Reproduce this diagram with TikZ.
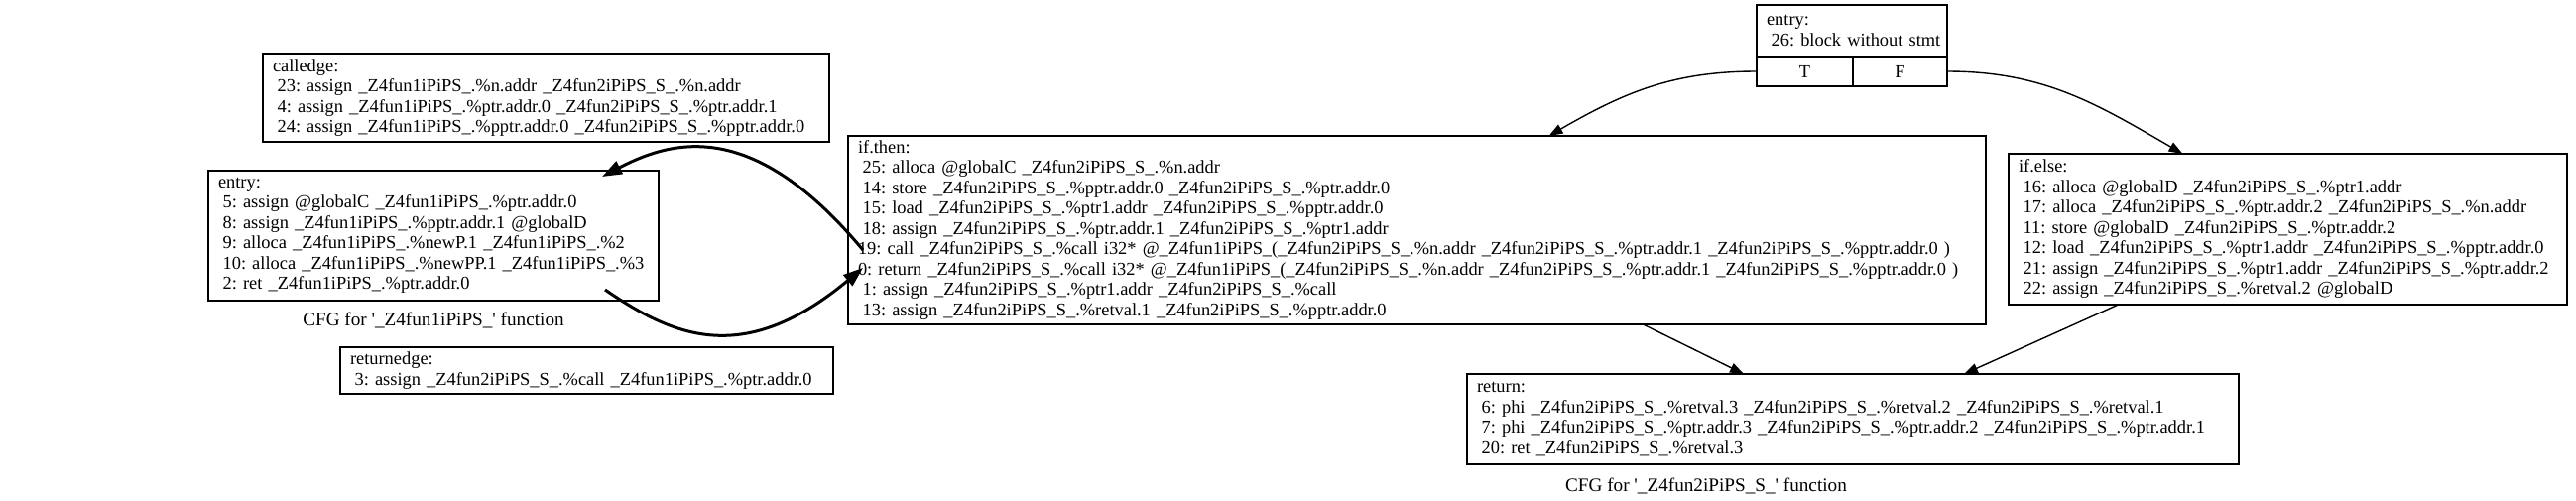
\documentclass[tikz,border=0pt]{standalone}
\usepackage{fontspec}
\setmainfont{Liberation Serif}
\usetikzlibrary{arrows.meta,calc}
\newcommand{\lead}{\hspace*{2.3pt}}

\begin{document}
\begin{tikzpicture}[x=0.5pt,y=-0.5pt,font=\fontsize{9.2}{10.25}\selectfont\frenchspacing,
  block/.style={draw,line width=0.8pt,anchor=north west,align=left,inner xsep=5pt,inner ysep=0pt,outer sep=0pt},
  portcell/.style={draw,line width=0.8pt,anchor=north west,inner sep=0pt,outer sep=0pt,minimum height=15pt},
  cfglabel/.style={font=\fontsize{9.6}{11}\selectfont},
  flow/.style={line width=0.7pt,-{Triangle[length=7pt,width=5pt]}},
  callflow/.style={line width=1.5pt,-{Triangle[length=10pt,width=7pt]}}]
\useasboundingbox (0,0) rectangle (2597,504);
% function 1
\node [block,text width=275.5pt,minimum height=44.5pt] (calledge) at (265,54) {calledge:\\
\lead 23: assign \_Z4fun1iPiPS\_.\%n.addr \_Z4fun2iPiPS\_S\_.\%n.addr\\
\lead 4: assign \_Z4fun1iPiPS\_.\%ptr.addr.0 \_Z4fun2iPiPS\_S\_.\%ptr.addr.1\\
\lead 24: assign \_Z4fun1iPiPS\_.\%pptr.addr.0 \_Z4fun2iPiPS\_S\_.\%pptr.addr.0};
\node [block,text width=217pt,minimum height=65.5pt] (entryone) at (210,172) {entry:\\
\lead 5: assign @globalC \_Z4fun1iPiPS\_.\%ptr.addr.0\\
\lead 8: assign \_Z4fun1iPiPS\_.\%pptr.addr.1 @globalD\\
\lead 9: alloca \_Z4fun1iPiPS\_.\%newP.1 \_Z4fun1iPiPS\_.\%2\\
\lead 10: alloca \_Z4fun1iPiPS\_.\%newPP.1 \_Z4fun1iPiPS\_.\%3\\
\lead 2: ret \_Z4fun1iPiPS\_.\%ptr.addr.0};
\node [cfglabel] (cfgone) at (437,323) {CFG for \textquotesingle\_Z4fun1iPiPS\_\textquotesingle{} function};
\node [block,text width=238.5pt,minimum height=23.5pt] (retedge) at (343,350) {returnedge:\\
\lead 3: assign \_Z4fun2iPiPS\_S\_.\%call \_Z4fun1iPiPS\_.\%ptr.addr.0};
% function 2
\node [block,inner xsep=3pt,text width=90pt,minimum height=26pt] (entrytwo) at (1771,5) {\hspace*{2pt}entry:\\
\lead\hspace*{2pt}26: block without stmt};
\node [portcell,minimum width=48.5pt] (porttrue) at (1771,57) {T};
\node [portcell,minimum width=47.5pt] (portfalse) at (1868,57) {F};
\node [block,text width=563.5pt,minimum height=95pt] (ifthen) at (855,137) {if.then:\\
\lead 25: alloca @globalC \_Z4fun2iPiPS\_S\_.\%n.addr\\
\lead 14: store \_Z4fun2iPiPS\_S\_.\%pptr.addr.0 \_Z4fun2iPiPS\_S\_.\%ptr.addr.0\\
\lead 15: load \_Z4fun2iPiPS\_S\_.\%ptr1.addr \_Z4fun2iPiPS\_S\_.\%pptr.addr.0\\
\lead 18: assign \_Z4fun2iPiPS\_S\_.\%ptr.addr.1 \_Z4fun2iPiPS\_S\_.\%ptr1.addr\\
19: call \_Z4fun2iPiPS\_S\_.\%call i32* @\_Z4fun1iPiPS\_(\_Z4fun2iPiPS\_S\_.\%n.addr \_Z4fun2iPiPS\_S\_.\%ptr.addr.1 \_Z4fun2iPiPS\_S\_.\%pptr.addr.0 )\\
0: return \_Z4fun2iPiPS\_S\_.\%call i32* @\_Z4fun1iPiPS\_(\_Z4fun2iPiPS\_S\_.\%n.addr \_Z4fun2iPiPS\_S\_.\%ptr.addr.1 \_Z4fun2iPiPS\_S\_.\%pptr.addr.0 )\\
\lead 1: assign \_Z4fun2iPiPS\_S\_.\%ptr1.addr \_Z4fun2iPiPS\_S\_.\%call\\
\lead 13: assign \_Z4fun2iPiPS\_S\_.\%retval.1 \_Z4fun2iPiPS\_S\_.\%pptr.addr.0};
\node [block,text width=271.5pt,minimum height=76pt] (ifelse) at (2025,155) {if.else:\\
\lead 16: alloca @globalD \_Z4fun2iPiPS\_S\_.\%ptr1.addr\\
\lead 17: alloca \_Z4fun2iPiPS\_S\_.\%ptr.addr.2 \_Z4fun2iPiPS\_S\_.\%n.addr\\
\lead 11: store @globalD \_Z4fun2iPiPS\_S\_.\%ptr.addr.2\\
\lead 12: load \_Z4fun2iPiPS\_S\_.\%ptr1.addr \_Z4fun2iPiPS\_S\_.\%pptr.addr.0\\
\lead 21: assign \_Z4fun2iPiPS\_S\_.\%ptr1.addr \_Z4fun2iPiPS\_S\_.\%ptr.addr.2\\
\lead 22: assign \_Z4fun2iPiPS\_S\_.\%retval.2 @globalD};
\node [block,text width=379pt,minimum height=45.5pt] (retblock) at (1479,377) {return:\\
\lead 6: phi \_Z4fun2iPiPS\_S\_.\%retval.3 \_Z4fun2iPiPS\_S\_.\%retval.2 \_Z4fun2iPiPS\_S\_.\%retval.1\\
\lead 7: phi \_Z4fun2iPiPS\_S\_.\%ptr.addr.3 \_Z4fun2iPiPS\_S\_.\%ptr.addr.2 \_Z4fun2iPiPS\_S\_.\%ptr.addr.1\\
\lead 20: ret \_Z4fun2iPiPS\_S\_.\%retval.3};
\node [cfglabel] (cfgtwo) at (1720,490) {CFG for \textquotesingle\_Z4fun2iPiPS\_S\_\textquotesingle{} function};
% edges
\draw [flow] (porttrue.west) to[out=180,in=30] ($(ifthen.north)+(133,0)$);
\draw [flow] (portfalse.east) to[out=0,in=150] ($(ifelse.north)+(-106,0)$);
\draw [flow] ($(ifthen.south)+(228,0)$) -- ($(retblock.north)+(-110,0)$);
\draw [flow] ($(ifelse.south)+(-171,0)$) -- ($(retblock.north)+(112,0)$);
\coordinate (callout) at ($(ifthen.north west)+(15,115)$);
\coordinate (retin) at ($(ifthen.north west)+(15,133)$);
\coordinate (callin) at ($(entryone.north east)+(-57,6)$);
\coordinate (retout) at ($(entryone.south east)+(-54,-11)$);
\draw [callflow] (callout) .. controls (760,120) and (680,140) .. (callin);
\draw [callflow] (retout) .. controls (680,340) and (750,370) .. (retin);
\end{tikzpicture}
\end{document}
